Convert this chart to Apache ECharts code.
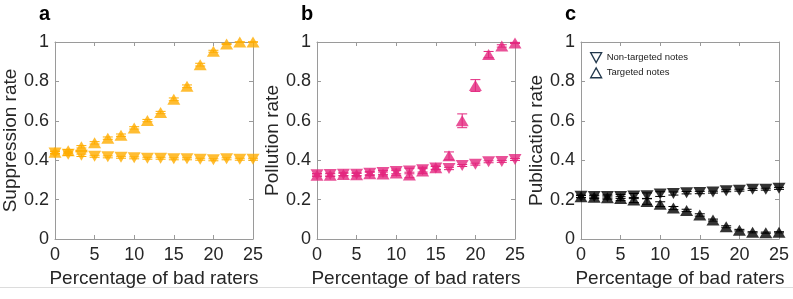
<!DOCTYPE html>
<html><head><meta charset="utf-8">
<script src="https://cdn.jsdelivr.net/npm/echarts@6/dist/echarts.min.js"></script>
<style>html,body{margin:0;padding:0;background:#fff}#c{width:793px;height:299px}</style>
</head><body><div id="c"></div>
<script>
// Percentage of bad raters (x values)
const xVals = [0, 1.667, 3.333, 5, 6.667, 8.333, 10, 11.667, 13.333, 15, 16.667, 18.333, 20, 21.667, 23.333, 25];
const xTicks = [0, 5, 10, 15, 20, 25];
const yTicks = [0, 0.2, 0.4, 0.6, 0.8, 1];
const panelLetters = ['a', 'b', 'c'];
const yNames = ['Suppression rate', 'Pollution rate', 'Publication rate'];
const xName = 'Percentage of bad raters';
const legendNames = ['Non-targeted notes', 'Targeted notes'];

// Panel a: suppression rate
const aNonTargeted = [0.437, 0.43, 0.425, 0.42, 0.417, 0.415, 0.412, 0.41, 0.41, 0.407, 0.407, 0.405, 0.402, 0.407, 0.405, 0.405];
const aNonTargetedErr = [0.006, 0.006, 0.006, 0.005, 0.005, 0.005, 0.005, 0.005, 0.005, 0.005, 0.005, 0.005, 0.005, 0.005, 0.005, 0.005];
const aTargeted = [0.44, 0.448, 0.468, 0.488, 0.512, 0.527, 0.564, 0.601, 0.642, 0.709, 0.775, 0.885, 0.953, 0.99, 1.0, 1.0];
const aTargetedErr = [0.006, 0.006, 0.006, 0.006, 0.006, 0.006, 0.006, 0.006, 0.006, 0.007, 0.007, 0.007, 0.005, 0.003, 0.001, 0.001];

// Panel b: pollution rate
const bNonTargeted = [0.326, 0.327, 0.329, 0.329, 0.334, 0.338, 0.343, 0.345, 0.352, 0.36, 0.358, 0.373, 0.38, 0.392, 0.394, 0.404];
const bNonTargetedErr = [0.006, 0.007, 0.007, 0.007, 0.008, 0.01, 0.012, 0.014, 0.012, 0.008, 0.006, 0.005, 0.005, 0.005, 0.005, 0.005];
const bTargeted = [0.324, 0.324, 0.327, 0.326, 0.331, 0.33, 0.335, 0.325, 0.345, 0.362, 0.422, 0.6, 0.779, 0.936, 0.98, 0.995];
const bTargetedErr = [0.006, 0.007, 0.007, 0.007, 0.008, 0.01, 0.012, 0.014, 0.012, 0.008, 0.02, 0.035, 0.03, 0.016, 0.006, 0.003];

// Panel c: publication rate
const cNonTargeted = [0.217, 0.216, 0.216, 0.216, 0.218, 0.22, 0.228, 0.231, 0.235, 0.236, 0.238, 0.245, 0.248, 0.252, 0.253, 0.257];
const cNonTargetedErr = [0.006, 0.007, 0.008, 0.01, 0.013, 0.014, 0.012, 0.008, 0.006, 0.006, 0.005, 0.005, 0.005, 0.005, 0.005, 0.005];
const cTargeted = [0.215, 0.212, 0.21, 0.205, 0.198, 0.19, 0.177, 0.157, 0.145, 0.122, 0.096, 0.062, 0.045, 0.034, 0.032, 0.034];
const cTargetedErr = [0.006, 0.007, 0.008, 0.01, 0.013, 0.014, 0.012, 0.008, 0.006, 0.006, 0.005, 0.005, 0.004, 0.003, 0.003, 0.003];

const colors = ['#FFAD00', '#E3267E', '#000000'];
const panels = [
  {non: aNonTargeted, nonErr: aNonTargetedErr, tg: aTargeted, tgErr: aTargetedErr},
  {non: bNonTargeted, nonErr: bNonTargetedErr, tg: bTargeted, tgErr: bTargetedErr},
  {non: cNonTargeted, nonErr: cNonTargetedErr, tg: cTargeted, tgErr: cTargetedErr}
];
const gridLefts = [55, 317, 581];
const gridW = 198, gridTop = 42, gridH = 197;
const FONT = 'Liberation Sans, Arial, Helvetica, sans-serif';
const axisCol = '#9a9a9a';
const txtCol = '#262626';

const grids = [], xAxes = [], yAxes = [], series = [], graphics = [];
panels.forEach((p, i) => {
  grids.push({left: gridLefts[i], top: gridTop, width: gridW, height: gridH, show: false});
  const baseX = {type: 'value', gridIndex: i, min: 0, max: 25, interval: 5,
    axisLine: {show: true, onZero: false, lineStyle: {color: axisCol, width: 1}},
    axisTick: {show: true, inside: true, length: 4, lineStyle: {color: axisCol}},
    splitLine: {show: false}};
  xAxes.push(Object.assign({}, baseX, {position: 'bottom',
    name: xName, nameLocation: 'middle', nameGap: 27,
    nameTextStyle: {fontFamily: FONT, fontSize: 19, color: txtCol},
    axisLabel: {fontFamily: FONT, fontSize: 18, color: txtCol, margin: 7}}));
  xAxes.push(Object.assign({}, baseX, {position: 'top', axisLabel: {show: false}}));
  const baseY = {type: 'value', gridIndex: i, min: 0, max: 1, interval: 0.2,
    axisLine: {show: true, onZero: false, lineStyle: {color: axisCol, width: 1}},
    axisTick: {show: true, inside: true, length: 4, lineStyle: {color: axisCol}},
    splitLine: {show: false}};
  yAxes.push(Object.assign({}, baseY, {position: 'left',
    name: yNames[i], nameLocation: 'middle', nameGap: 33,
    nameTextStyle: {fontFamily: FONT, fontSize: 19, color: txtCol},
    axisLabel: {fontFamily: FONT, fontSize: 18, color: txtCol, margin: 6,
      formatter: v => String(Math.round(v * 10) / 10)}}));
  yAxes.push(Object.assign({}, baseY, {position: 'right', axisLabel: {show: false}}));

  const xi = i * 2, yi = i * 2;
  const col = colors[i];
  const nonName = i === 2 ? legendNames[0] : 'nt' + i;
  const tgName = i === 2 ? legendNames[1] : 't' + i;
  const errSeries = (vals, errs, nm) => ({
    type: 'custom', name: nm, xAxisIndex: xi, yAxisIndex: yi, z: 2,
    data: xVals.map((x, k) => [x, vals[k], errs[k]]),
    renderItem: (params, api) => {
      const x = api.value(0), y = api.value(1), e = api.value(2);
      const lo = api.coord([x, y - e]), hi = api.coord([x, y + e]);
      const cw = 5;
      const st = {stroke: col, lineWidth: 1};
      return {type: 'group', children: [
        {type: 'line', shape: {x1: lo[0], y1: lo[1], x2: hi[0], y2: hi[1]}, style: st},
        {type: 'line', shape: {x1: lo[0] - cw, y1: lo[1], x2: lo[0] + cw, y2: lo[1]}, style: st},
        {type: 'line', shape: {x1: hi[0] - cw, y1: hi[1], x2: hi[0] + cw, y2: hi[1]}, style: st}
      ]};
    }
  });
  series.push(errSeries(p.non, p.nonErr, nonName));
  series.push(errSeries(p.tg, p.tgErr, tgName));
  series.push({type: 'scatter', name: nonName, xAxisIndex: xi, yAxisIndex: yi, z: 3,
    symbol: 'triangle', symbolRotate: 180, symbolSize: [13, 11],
    itemStyle: {color: col}, data: xVals.map((x, k) => [x, p.non[k]])});
  series.push({type: 'scatter', name: tgName, xAxisIndex: xi, yAxisIndex: yi, z: 3,
    symbol: 'triangle', symbolSize: [13, 11],
    itemStyle: {color: col}, data: xVals.map((x, k) => [x, p.tg[k]])});

  graphics.push({type: 'text', left: gridLefts[i] - 16, top: 4,
    style: {text: panelLetters[i], font: 'bold 20px ' + FONT, fill: '#000'}});
});
graphics.push({type: 'rect', shape: {x: 0, y: 287, width: 793, height: 1}, style: {fill: '#dcdcdc'}});

const chart = echarts.init(document.getElementById('c'), null, {renderer: 'canvas'});
chart.setOption({
  animation: false,
  grid: grids, xAxis: xAxes, yAxis: yAxes, series: series, graphic: graphics,
  legend: {
    left: 585, top: 47, orient: 'vertical', itemGap: 4, itemWidth: 11, itemHeight: 10,
    textStyle: {fontFamily: FONT, fontSize: 9.5, color: '#222'},
    selectedMode: false,
    data: [
      {name: legendNames[0], icon: 'path://M0,0 L10,0 L5,9 Z',
        itemStyle: {color: 'rgba(0,0,0,0)', borderColor: '#22384c', borderWidth: 1.3}},
      {name: legendNames[1], icon: 'path://M5,0 L10,9 L0,9 Z',
        itemStyle: {color: 'rgba(0,0,0,0)', borderColor: '#22384c', borderWidth: 1.3}}
    ]
  }
});
</script></body></html>
